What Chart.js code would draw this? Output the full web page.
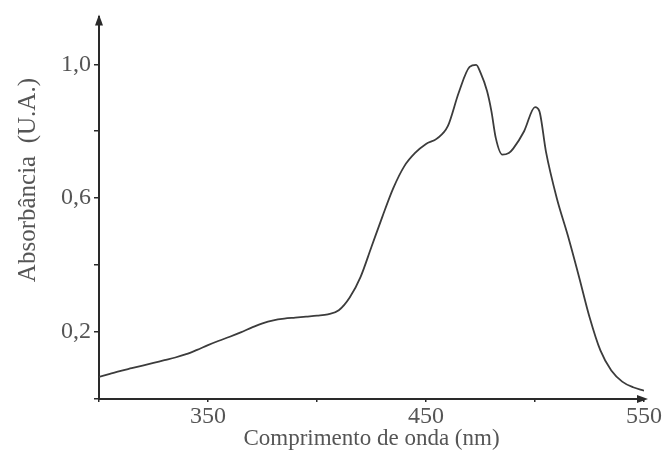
<!DOCTYPE html>
<html>
<head>
<meta charset="utf-8">
<script src="https://cdn.jsdelivr.net/npm/chart.js@4/dist/chart.umd.min.js"></script>
<style>
  html, body { margin: 0; padding: 0; background: #fff; }
  #wrap { width: 667px; height: 450px; }
</style>
</head>
<body>
<div id="wrap"><canvas id="c" width="667" height="450"></canvas></div>
<script>
const wavelengths = [300,305,310,315,320,325,330,335,340,345,350,355,360,365,370,375,380,385,390,395,400,405,410,415,420,425,430,435,440,445,450,455,460,465,470,473,475,478,480,482,485,488,490,495,500,502,505,510,515,520,525,530,535,540,545,550];
const absorbance  = [0.066,0.075,0.084,0.092,0.100,0.108,0.116,0.124,0.134,0.147,0.161,0.174,0.186,0.199,0.213,0.226,0.235,0.240,0.243,0.246,0.249,0.253,0.265,0.303,0.365,0.455,0.545,0.630,0.695,0.735,0.762,0.778,0.815,0.915,0.992,0.998,0.975,0.920,0.860,0.780,0.730,0.735,0.748,0.800,0.872,0.860,0.740,0.600,0.490,0.370,0.245,0.145,0.085,0.052,0.035,0.025];
const xTicks = [300,350,400,450,500,550];
const xLabels = [350,450,550];
const yTicks = [0,0.2,0.4,0.6,0.8,1.0];
const yLabels = [0.2,0.6,1.0];

const textColor = '#555';
const axisColor = '#2a2a2a';
const fontFamily = '"Liberation Serif", "Times New Roman", serif';

const arrows = {
  id: 'arrows',
  afterDraw(chart) {
    const {ctx, chartArea: a} = chart;
    ctx.save();
    ctx.fillStyle = axisColor;
    ctx.beginPath();
    ctx.moveTo(a.left, a.top - 3);
    ctx.lineTo(a.left - 4, a.top + 8);
    ctx.lineTo(a.left + 4, a.top + 8);
    ctx.closePath();
    ctx.fill();
    ctx.beginPath();
    ctx.moveTo(a.right + 4, a.bottom);
    ctx.lineTo(a.right - 7, a.bottom - 4);
    ctx.lineTo(a.right - 7, a.bottom + 4);
    ctx.closePath();
    ctx.fill();
    ctx.restore();
  }
};

new Chart(document.getElementById('c'), {
  type: 'line',
  data: {
    datasets: [{
      data: wavelengths.map((w, i) => ({x: w, y: absorbance[i]})),
      borderColor: '#3c3c3c',
      borderWidth: 1.8,
      pointRadius: 0,
      fill: false,
      cubicInterpolationMode: 'monotone'
    }]
  },
  options: {
    responsive: false,
    animation: false,
    layout: { padding: { left: 0, right: 23, top: 15, bottom: 0 } },
    plugins: { legend: { display: false }, tooltip: { enabled: false } },
    scales: {
      x: {
        type: 'linear',
        min: 300, max: 550,
        afterBuildTicks: s => { s.ticks = xTicks.map(v => ({value: v})); },
        afterFit: s => { s.height = 51; },
        ticks: {
          autoSkip: false,
          maxRotation: 0,
          padding: 0,
          color: textColor,
          font: { family: fontFamily, size: 24 },
          callback: v => xLabels.includes(v) ? String(v) : ''
        },
        grid: { drawOnChartArea: false, drawTicks: true, tickLength: 3, color: axisColor, lineWidth: 1.5 },
        border: { display: true, color: axisColor, width: 2 },
        title: {
          display: true,
          text: 'Comprimento de onda (nm)',
          color: textColor,
          font: { family: fontFamily, size: 23, lineHeight: 1.0 },
          padding: { top: 0, bottom: 0 }
        }
      },
      y: {
        type: 'linear',
        min: 0, max: 1.14,
        afterBuildTicks: s => { s.ticks = yTicks.map(v => ({value: v})); },
        afterFit: s => { s.width = 99; },
        ticks: {
          autoSkip: false,
          padding: 3,
          color: textColor,
          font: { family: fontFamily, size: 24 },
          callback: v => yLabels.some(l => Math.abs(l - v) < 1e-6) ? v.toFixed(1).replace('.', ',') : ''
        },
        grid: { drawOnChartArea: false, drawTicks: true, tickLength: 5, color: axisColor, lineWidth: 1.5 },
        border: { display: true, color: axisColor, width: 2 },
        title: {
          display: true,
          text: '\u00A0\u00A0\u00A0\u00A0\u00A0\u00A0\u00A0\u00A0\u00A0Absorbância  (U.A.)',
          color: textColor,
          font: { family: fontFamily, size: 25 },
          padding: { top: 13, bottom: 0 }
        }
      }
    }
  },
  plugins: [arrows]
});
</script>
</body>
</html>
